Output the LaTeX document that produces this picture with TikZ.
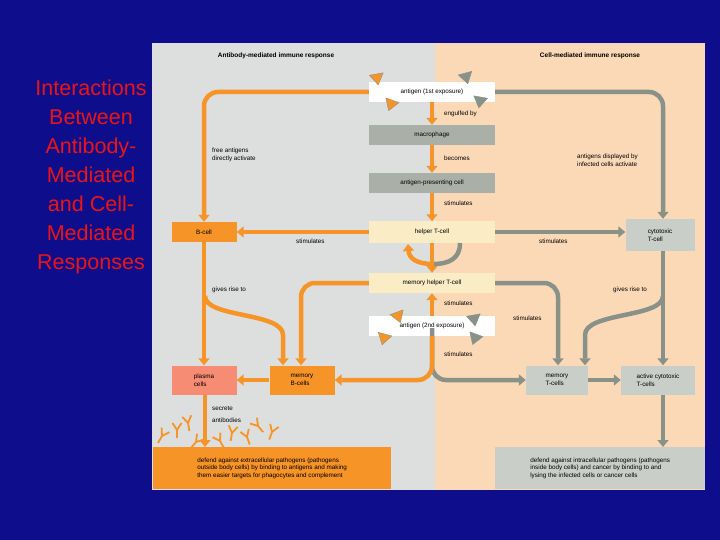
\documentclass[tikz,border=0pt]{standalone}
\usepackage{fontspec}
\setmainfont{Liberation Sans}
\usetikzlibrary{arrows.meta}
\definecolor{bgblue}{RGB}{14,14,140}
\definecolor{panelgray}{RGB}{220,223,221}
\definecolor{peach}{RGB}{252,217,182}
\definecolor{orng}{RGB}{247,148,40}
\definecolor{grn}{RGB}{136,146,136}
\definecolor{darkbox}{RGB}{170,176,168}
\definecolor{lightbox}{RGB}{201,206,201}
\definecolor{salmon}{RGB}{246,140,115}
\definecolor{helpy}{RGB}{250,236,196}
\definecolor{titlered}{RGB}{235,20,20}

\tikzset{
  box/.style={draw=none, text centered, font=\fontsize{6.3}{7.5}\selectfont, inner sep=1pt},
  lab/.style={font=\fontsize{6.3}{7.5}\selectfont, align=left, anchor=west, inner sep=0pt},
  oarr/.style={draw=orng, line width=4.5pt, -{Triangle[length=7pt,width=11pt]}},
  garr/.style={draw=grn, line width=4.5pt, -{Triangle[length=7pt,width=11pt]}},
  oline/.style={draw=orng, line width=4.5pt},
  gline/.style={draw=grn, line width=4.5pt}
}

\begin{document}
\begin{tikzpicture}[x=1pt, y=-1pt]
  \useasboundingbox (0,0) rectangle (720,540);
  \fill[bgblue] (0,0) rectangle (720,540);
  \fill[panelgray] (152,43) rectangle (435,490);
  \fill[peach] (435,43) rectangle (705,490);

  \node (title) [font=\fontsize{21.5}{29}\selectfont, text=titlered, align=center] at (91,177)
     {Interactions\\Between\\Antibody-\\Mediated\\and Cell-\\Mediated\\Responses};
  \node (headl) [font=\fontsize{6.5}{7}\selectfont\bfseries] at (276,56) {Antibody-mediated immune response};
  \node (headr) [font=\fontsize{6.5}{7}\selectfont\bfseries] at (590,56) {Cell-mediated immune response};

  % boxes
  \node (anti1) [box, fill=white, minimum width=126pt, minimum height=20pt] at (432,92) {antigen (1st exposure)};
  \node (macro) [box, fill=darkbox, minimum width=126pt, minimum height=20pt] at (432,135) {macrophage};
  \node (apc) [box, fill=darkbox, minimum width=126pt, minimum height=20pt] at (432,183) {antigen-presenting cell};
  \node (helper) [box, fill=helpy, minimum width=126pt, minimum height=21pt] at (432,232) {helper T-cell};
  \node (bcell) [box, fill=orng, minimum width=65pt, minimum height=20pt] at (204,232) {B-cell};
  \node (cyto) [box, fill=lightbox, minimum width=69pt, minimum height=32pt, align=left] at (660,235) {cytotoxic\\T-cell};
  \node (memhelp) [box, fill=helpy, minimum width=126pt, minimum height=20pt] at (432,283) {memory helper T-cell};
  \node (anti2) [box, fill=white, minimum width=126pt, minimum height=20pt] at (432,326) {antigen (2nd exposure)};
  \node (plasma) [box, fill=salmon, minimum width=65pt, minimum height=29pt, align=left] at (204,380) {plasma\\cells};
  \node (memb) [box, fill=orng, minimum width=65pt, minimum height=29pt, align=left] at (302,380) {memory\\B-cells};
  \node (memt) [box, fill=lightbox, minimum width=62pt, minimum height=29pt, align=left] at (557,380) {memory\\T-cells};
  \node (actcyto) [box, fill=lightbox, minimum width=74pt, minimum height=29pt, align=left] at (658,380) {active cytotoxic\\T-cells};
  \node (defl) [box, fill=orng, minimum width=238pt, minimum height=42pt, align=left, anchor=north west] at (153,447)
     {defend against extracellular pathogens (pathogens\\outside body cells) by binding to antigens and making\\them easier targets for phagocytes and complement};
  \node (defr) [box, fill=lightbox, minimum width=210pt, minimum height=42pt, align=left, anchor=north west] at (495,447)
     {defend against intracellular pathogens (pathogens\\inside body cells) and cancer by binding to and\\lysing the infected cells or cancer cells};

  % connectors
  \draw[oarr, rounded corners=14pt] (anti1.west) -| (bcell.north);
  \draw[garr, rounded corners=14pt] (anti1.east) -| ([xshift=3pt]cyto.north);
  \draw[oarr] (anti1.south) -- (macro.north);
  \draw[oarr] (macro.south) -- (apc.north);
  \draw[oarr] (apc.south) -- (helper.north);
  \draw[oarr] (helper.west) -- (bcell.east);
  \draw[garr] (helper.east) -- (helper.east -| cyto.west);
  \draw[gline] (460,243) .. controls (460,258) and (450,264) .. (433,264);
  \draw[oarr] (433,264) .. controls (416,264) and (409,258) .. (408,244);
  \draw[oarr] (helper.south) -- (memhelp.north);
  \draw[oarr] (bcell.south) -- (plasma.north);
  \coordinate (bsplit) at (205,296);
  \draw[oarr] (bsplit) .. controls (205,318) and (283,312) .. (283,335) -- ([xshift=-19pt]memb.north);
  \draw[oarr, rounded corners=14pt] (memhelp.west) -| ([xshift=-1pt]memb.north);
  \draw[garr, rounded corners=14pt] (memhelp.east) -| ([xshift=1pt]memt.north);
  \draw[garr] ([xshift=3pt]cyto.south) -- ([xshift=5pt]actcyto.north);
  \coordinate (csplit) at (663,296);
  \draw[garr] (csplit) .. controls (663,318) and (585,312) .. (585,335) -- ([xshift=28pt]memt.north);
  \draw[oarr] (anti2.north) -- (memhelp.south);
  \draw[garr, rounded corners=14pt] ([yshift=8pt]anti2.south) |- (memt.west);
  \draw[oarr, rounded corners=14pt] (anti2.south) |- (memb.east);
  \draw[oarr] (memb.west) -- (plasma.east);
  \draw[garr] (memt.east) -- (actcyto.west);
  \draw[oarr] ([xshift=1pt]plasma.south) -- ([xshift=52pt]defl.north west);
  \draw[garr] ([xshift=5pt]actcyto.south) -- ([xshift=168pt]defr.north west);

  % labels
  \node (l1) [lab] at (212,155) {free antigens\\directly activate};
  \node (l2) [lab] at (577,160) {antigens displayed by\\infected cells activate};
  \node (l3) [lab] at (444,114) {engulfed by};
  \node (l4) [lab] at (444,158) {becomes};
  \node (l5) [lab] at (444,203) {stimulates};
  \node (l6) [lab] at (296,241) {stimulates};
  \node (l7) [lab] at (539,241) {stimulates};
  \node (l8) [lab] at (212,290) {gives rise to};
  \node (l9) [lab] at (613,290) {gives rise to};
  \node (l10) [lab] at (444,303) {stimulates};
  \node (l11) [lab] at (513,318) {stimulates};
  \node (l12) [lab] at (444,354) {stimulates};
  \node (l13) [lab] at (212,408) {secrete};
  \node (l14) [lab] at (212,420) {antibodies};

  % antigen particles
  \foreach \x/\y/\r/\c in {377/78/10/orng, 391/104/-20/orng, 466/77/15/grn, 480/101/-10/grn,
                            398/316/20/orng, 384/338/-15/orng, 474/319/10/grn, 475/338/-20/grn}
    \filldraw[fill=\c, draw=grn, line width=0.4pt, rotate around={\r:(\x,\y)}] (\x-7,\y-4) -- (\x+7,\y-4) -- (\x,\y+7) -- cycle;

  % antibodies
  \foreach \x/\y/\r in {162/436/-30, 177/430/0, 188/423/10, 196/442/-40, 220/441/30,
                        232/433/-10, 247/437/20, 258/426/40, 272/432/-20}
    \draw[orng, line width=1.8pt, rotate around={\r:(\x,\y)}]
      (\x,\y+8) -- (\x,\y) -- (\x-4.5,\y-7) (\x,\y) -- (\x+4.5,\y-7);
\end{tikzpicture}
\end{document}
